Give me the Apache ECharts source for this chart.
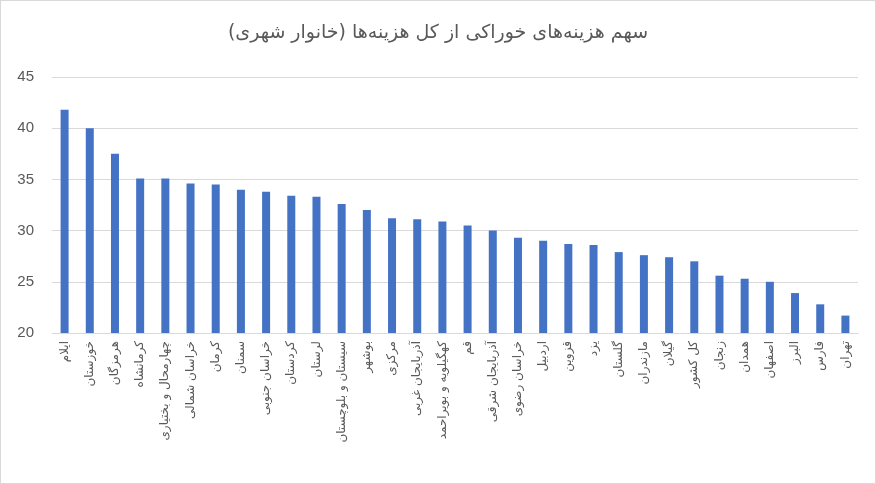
<!DOCTYPE html>
<html>
<head>
<meta charset="utf-8">
<script src="https://cdn.jsdelivr.net/npm/echarts@6/dist/echarts.min.js"></script>
<style>
html, body { margin: 0; padding: 0; background: #fff; }
#chart { width: 874px; height: 482px; border: 1px solid #d9d9d9; }
</style>
</head>
<body>
<div id="chart"></div>
<script>
// سهم هزینه خوراکی - خانوار شهری
var provinces = ['ایلام', 'خوزستان', 'هرمزگان', 'کرمانشاه', 'چهارمحال و بختیاری', 'خراسان شمالی', 'کرمان', 'سمنان',
    'خراسان جنوبی', 'کردستان', 'لرستان', 'سیستان و بلوچستان', 'بوشهر', 'مرکزی', 'آذربایجان غربی', 'کهگیلویه و بویراحمد',
    'قم', 'آذربایجان شرقی', 'خراسان رضوی', 'اردبیل', 'قزوین', 'یزد', 'گلستان', 'مازندران', 'گیلان', 'کل کشور',
    'زنجان', 'همدان', 'اصفهان', 'البرز', 'فارس', 'تهران'];
var foodShare = [41.8, 40.0, 37.5, 35.1, 35.1, 34.6, 34.5, 34.0, 33.8, 33.4, 33.3, 32.6, 32.0, 31.2, 31.1, 30.9,
    30.5, 30.0, 29.3, 29.0, 28.7, 28.6, 27.9, 27.6, 27.4, 27.0, 25.6, 25.3, 25.0, 23.9, 22.8, 21.7];

var myChart = echarts.init(document.getElementById('chart'));
var option = {
    animation: false,
    title: {
        text: 'سهم هزینه‌های خوراکی از کل هزینه‌ها (خانوار شهری)',
        left: 'center',
        top: 18,
        textStyle: { fontFamily: 'DejaVu Sans', fontWeight: 'normal', fontSize: 19, color: '#595959' }
    },
    grid: { left: 51, right: 17, top: 76, bottom: 150 },
    xAxis: {
        type: 'category',
        data: provinces,
        axisLine: { lineStyle: { color: '#d9d9d9' } },
        axisTick: { show: false },
        axisLabel: { rotate: 90, interval: 0, color: '#595959', fontSize: 12, fontFamily: 'DejaVu Sans', margin: 8 }
    },
    yAxis: {
        type: 'value',
        min: 20,
        max: 45,
        interval: 5,
        axisLine: { show: false },
        axisTick: { show: false },
        splitLine: { lineStyle: { color: '#d9d9d9' } },
        axisLabel: { color: '#595959', fontSize: 15, fontFamily: 'Liberation Sans', margin: 18 }
    },
    series: [{
        type: 'bar',
        data: foodShare,
        barWidth: 8,
        itemStyle: { color: '#4472c4' }
    }]
};
myChart.setOption(option);
</script>
</body>
</html>
